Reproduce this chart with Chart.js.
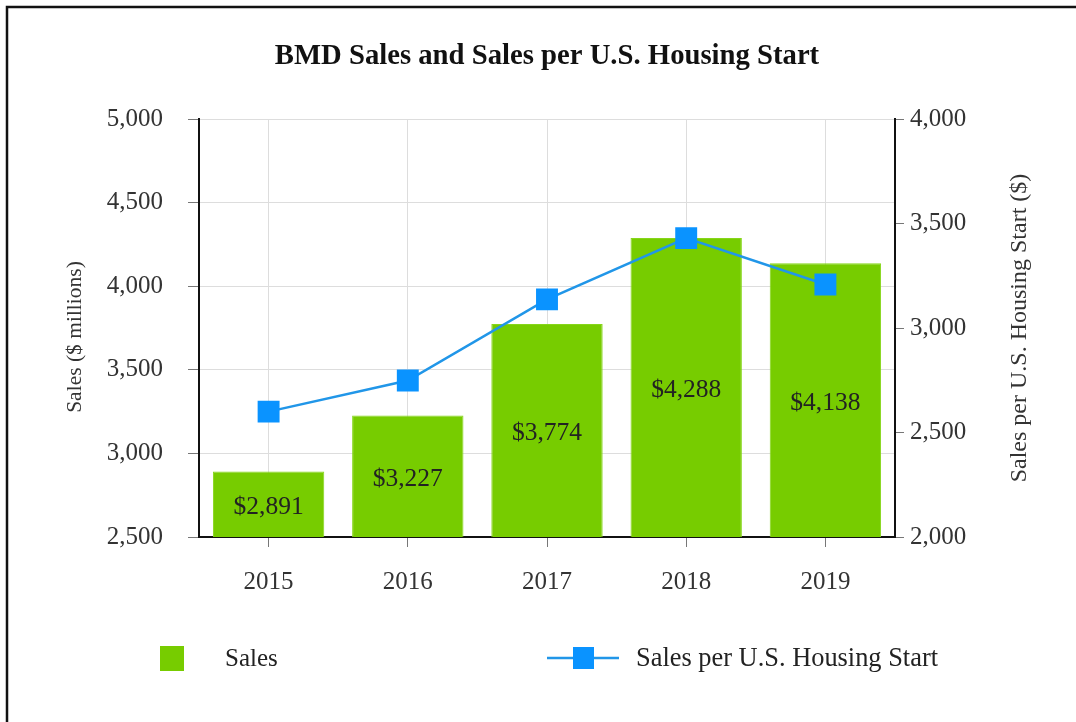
<!DOCTYPE html>
<html><head><meta charset="utf-8">
<script src="https://cdn.jsdelivr.net/npm/chart.js@4.4.1/dist/chart.umd.min.js"></script>
<style>html,body{margin:0;padding:0;background:#fff;} canvas{display:block;}</style>
</head><body>
<canvas id="c" width="1076" height="722"></canvas>
<script>
// ---- data ----
const categories = ['2015', '2016', '2017', '2018', '2019'];
const salesMillions = [2891, 3227, 3774, 4288, 4138];
const salesPerStart = [2600, 2749, 3137, 3430, 3208];
const salesLabels = ['$2,891', '$3,227', '$3,774', '$4,288', '$4,138'];
const leftTicks = [2500, 3000, 3500, 4000, 4500, 5000];
const rightTicks = [2000, 2500, 3000, 3500, 4000];
const titleText = 'BMD Sales and Sales per U.S. Housing Start';
const leftAxisTitle = 'Sales ($ millions)';
const rightAxisTitle = 'Sales per U.S. Housing Start ($)';
const seriesNames = ['Sales', 'Sales per U.S. Housing Start'];

const SERIF = "'Liberation Serif', 'Times New Roman', serif";
Chart.defaults.font.family = SERIF;
Chart.defaults.color = '#333';

const GREEN = '#77cc00';
const BLUE_LINE = '#2196e8';
const BLUE_PT = '#0a93ff';

const fmt = v => Number(v).toLocaleString('en-US');

function vText(c, text, x, y, font, color) {
  c.save();
  c.fillStyle = color;
  c.font = font;
  c.textAlign = 'center';
  c.textBaseline = 'middle';
  c.translate(x, y);
  c.rotate(-Math.PI / 2);
  c.fillText(text, 0, 0);
  c.restore();
}

const decorPlugin = {
  id: 'decor',
  beforeDraw(chart) {
    const c = chart.ctx;
    c.save();
    c.fillStyle = '#fff';
    c.fillRect(0, 0, chart.width, chart.height);
    c.restore();
  },
  afterDraw(chart) {
    const c = chart.ctx;
    const ca = chart.chartArea;
    c.save();
    // frame
    c.strokeStyle = '#111';
    c.lineWidth = 2.5;
    c.beginPath();
    c.moveTo(7, chart.height);
    c.lineTo(7, 7);
    c.lineTo(chart.width, 7);
    c.stroke();
    // title
    c.fillStyle = '#111';
    c.font = 'bold 28.7px ' + SERIF;
    c.textAlign = 'center';
    c.textBaseline = 'middle';
    c.fillText(titleText, (ca.left + ca.right) / 2, 57);
    c.restore();
    // axis titles (both read bottom to top)
    vText(c, leftAxisTitle, 75, 337, '21.5px ' + SERIF, '#333');
    vText(c, rightAxisTitle, 1020, (ca.top + ca.bottom) / 2, '24px ' + SERIF, '#333');
    // legend
    c.save();
    const ds = chart.data.datasets;
    const ly = 658;
    c.fillStyle = ds[0].backgroundColor;
    c.fillRect(160, ly - 12, 24, 25);
    c.fillStyle = '#222';
    c.font = '25px ' + SERIF;
    c.textAlign = 'left';
    c.textBaseline = 'middle';
    c.fillText(ds[0].label, 225, ly + 1);
    c.strokeStyle = ds[1].borderColor;
    c.lineWidth = 2.5;
    c.beginPath();
    c.moveTo(547, ly);
    c.lineTo(619, ly);
    c.stroke();
    c.fillStyle = ds[1].pointBackgroundColor;
    c.fillRect(573, ly - 11, 21, 22);
    c.fillStyle = '#222';
    c.font = '26.4px ' + SERIF;
    c.fillText(ds[1].label, 636, ly + 1);
    c.restore();
  }
};

const barLabelPlugin = {
  id: 'barLabels',
  afterDatasetsDraw(chart) {
    const meta = chart.getDatasetMeta(0);
    const bottom = chart.chartArea.bottom;
    const c = chart.ctx;
    c.save();
    c.fillStyle = '#222';
    c.font = '25.5px ' + SERIF;
    c.textAlign = 'center';
    c.textBaseline = 'middle';
    meta.data.forEach((bar, i) => {
      const base = Math.min(bar.base, bottom);
      c.fillText(salesLabels[i], bar.x, (bar.y + base) / 2 + 3);
    });
    c.restore();
  }
};

new Chart(document.getElementById('c'), {
  data: {
    labels: categories,
    datasets: [
      {
        type: 'bar',
        label: seriesNames[0],
        data: salesMillions,
        yAxisID: 'y',
        backgroundColor: GREEN,
        borderColor: '#86d61a',
        borderWidth: 1,
        categoryPercentage: 1.0,
        barPercentage: 0.8,
        order: 1
      },
      {
        type: 'line',
        label: seriesNames[1],
        data: salesPerStart,
        yAxisID: 'y1',
        borderColor: BLUE_LINE,
        borderWidth: 2.5,
        pointStyle: 'rect',
        pointRadius: 15.5,
        pointHoverRadius: 15.5,
        pointBackgroundColor: BLUE_PT,
        pointBorderColor: BLUE_PT,
        pointBorderWidth: 0,
        tension: 0,
        order: 0
      }
    ]
  },
  options: {
    responsive: false,
    animation: false,
    devicePixelRatio: 1,
    layout: { padding: { top: 119, left: 0, right: 0, bottom: 0 } },
    plugins: {
      legend: { display: false },
      tooltip: { enabled: false },
      title: { display: false }
    },
    scales: {
      x: {
        offset: true,
        grid: { offset: false, color: '#dddddd', tickColor: '#777', tickLength: 10, lineWidth: 1 },
        border: { color: '#111', width: 2 },
        ticks: { font: { size: 25 }, color: '#333', padding: 20 },
        afterFit(s) { s.height = 722 - 537; }
      },
      y: {
        position: 'left',
        min: leftTicks[0],
        max: leftTicks[leftTicks.length - 1],
        afterBuildTicks(s) { s.ticks = leftTicks.map(v => ({ value: v })); },
        grid: { color: '#dddddd', tickColor: '#777', tickLength: 11 },
        border: { color: '#111', width: 2 },
        ticks: { font: { size: 25 }, color: '#333', padding: 25, callback: fmt },
        afterFit(s) { s.width = 199; }
      },
      y1: {
        position: 'right',
        min: rightTicks[0],
        max: rightTicks[rightTicks.length - 1],
        afterBuildTicks(s) { s.ticks = rightTicks.map(v => ({ value: v })); },
        grid: { drawOnChartArea: false, tickColor: '#777', tickLength: 9 },
        border: { color: '#111', width: 2 },
        ticks: { font: { size: 25 }, color: '#333', padding: 6, callback: fmt },
        afterFit(s) { s.width = 1076 - 895; }
      }
    }
  },
  plugins: [decorPlugin, barLabelPlugin]
});
</script>
</body></html>
